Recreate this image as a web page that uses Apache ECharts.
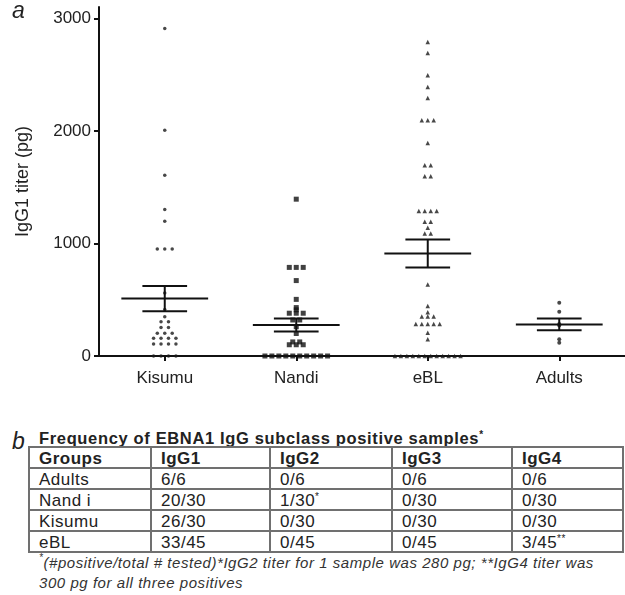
<!DOCTYPE html>
<html>
<head>
<meta charset="utf-8">
<script src="https://cdn.jsdelivr.net/npm/echarts@6/dist/echarts.min.js"></script>
<style>
    body { margin: 0; background: #fff; font-family: "Liberation Sans", Arial, sans-serif; color: #222; }
    #main { position: absolute; left: 0; top: 0; width: 625px; height: 400px; }
    #lblB { position: absolute; left: 12px; top: 430px; font-size: 23px; line-height: 23px; font-style: italic; }
    #tblTitle { position: absolute; left: 39px; top: 430px; font-size: 16.5px; line-height: 16px; font-weight: bold; letter-spacing: 0.65px; white-space: nowrap; }
    #tblTitle sup, #tbl sup, #note sup { font-size: 10px; vertical-align: top; line-height: 10px; }
    #tbl { position: absolute; left: 28px; top: 446px; border-collapse: collapse; table-layout: fixed; }
    #tbl td { border: 2px solid #707070; height: 17px; padding: 2px 0 0 9px; font-size: 17px; line-height: 17px; letter-spacing: 0.5px; white-space: nowrap; overflow: hidden; }
    #tbl tr:first-child td { font-weight: bold; }
    #note { position: absolute; left: 39px; top: 553px; font-size: 15px; line-height: 20px; font-style: italic; color: #333; letter-spacing: 0.55px; white-space: nowrap; }
</style>
</head>
<body>
<div id="main"></div>
<div id="lblB">b</div>
<div id="tblTitle">Frequency of EBNA1 IgG subclass positive samples<sup>*</sup></div>
<table id="tbl"></table>
<div id="note"><sup>*</sup>(#positive/total # tested)*IgG2 titer for 1 sample was 280 pg; **IgG4 titer was<br>300 pg for all three positives</div>
<script>
    // panel a data (pg)
    var groups = ['Kisumu', 'Nandi', 'eBL', 'Adults'];
    var kisumu = [2910, 2005, 1606, 1302, 1198, 950, 950, 950, 560, 414, 348, 305, 305, 254, 254,
        201, 201, 201, 157, 157, 157, 157, 106, 106, 106, 106, 0, 0, 0, 0];
    var nandi = [1393, 787, 787, 787, 670, 503, 430, 410, 380, 380, 380, 320, 320, 260, 200,
        125, 125, 100, 100, 100, 0, 0, 0, 0, 0, 0, 0, 0, 0, 0];
    var ebl = [2789, 2691, 2493, 2390, 2292, 2094, 2094, 2094, 1893, 1695, 1695, 1597, 1597,
        1287, 1287, 1287, 1287, 1192, 1192, 1139, 1088, 1088, 636, 444, 388, 350, 350, 350,
        284, 284, 284, 284, 284, 207, 148, 0, 0, 0, 0, 0, 0, 0, 0, 0, 0, 0, 0];
    var adults = [473, 393, 285, 270, 148, 118];
    var means = [510, 275, 910, 280];
    var sems = [112, 58, 125, 52];
    var yTicks = [0, 1000, 2000, 3000];

    // panel b table
    var tableHeader = ['Groups', 'IgG1', 'IgG2', 'IgG3', 'IgG4'];
    var tableRows = [
        ['Adults', '6/6', '0/6', '0/6', '0/6'],
        ['Nand i', '20/30', '1/30*', '0/30', '0/30'],
        ['Kisumu', '26/30', '0/30', '0/30', '0/30'],
        ['eBL', '33/45', '0/45', '0/45', '3/45**']
    ];
    var colWidths = [122, 119, 122, 120, 111];

    var tbl = document.getElementById('tbl');
    [tableHeader].concat(tableRows).forEach(function (row) {
        var tr = document.createElement('tr');
        row.forEach(function (cell, i) {
            var td = document.createElement('td');
            td.style.width = (colWidths[i] - 11) + 'px';
            var m = cell.match(/^(.*?)(\*+)$/);
            if (m) {
                td.textContent = m[1];
                var sup = document.createElement('sup');
                sup.textContent = m[2];
                td.appendChild(sup);
            } else {
                td.textContent = cell;
            }
            tr.appendChild(td);
        });
        tbl.appendChild(tr);
    });

    var gridLeft = 99, gridRight = -3, gridTop = 7, gridBottom = 44;
    var bandPx = (625 - gridLeft - gridRight) / groups.length;

    // simple column scatter: equal values are spread side by side
    function swarm(vals, gi, step) {
        var counts = {}, seen = {}, out = [];
        vals.forEach(function (v) { counts[v] = (counts[v] || 0) + 1; });
        vals.forEach(function (v) {
            var k = seen[v] || 0;
            seen[v] = k + 1;
            out.push([gi + (k - (counts[v] - 1) / 2) * step / bandPx, v]);
        });
        return out;
    }

    var font = 'Liberation Sans';
    var chart = echarts.init(document.getElementById('main'));
    var option = {
        animation: false,
        grid: {left: gridLeft, right: gridRight, top: gridTop, bottom: gridBottom},
        graphic: [{
            type: 'text', left: 12, top: 0,
            style: {text: 'a', font: 'italic 23px "Liberation Sans"', fill: '#222'}
        }],
        xAxis: {
            type: 'value', min: -0.5, max: 3.5,
            splitLine: {show: false},
            axisLine: {show: true, onZero: false, lineStyle: {color: '#111', width: 2}},
            axisTick: {show: true, customValues: [0, 1, 2, 3], length: 5, lineStyle: {color: '#111', width: 2}},
            axisLabel: {
                customValues: [0, 1, 2, 3], margin: 14, fontSize: 17, color: '#222', fontFamily: font,
                formatter: function (v) { return groups[Math.round(v)]; }
            }
        },
        yAxis: {
            type: 'value', min: 0, max: 3100,
            name: 'IgG1 titer (pg)', nameLocation: 'middle', nameGap: 67,
            nameTextStyle: {fontSize: 18, fontWeight: 'normal', color: '#222', fontFamily: font},
            splitLine: {show: false},
            axisLine: {show: true, onZero: false, lineStyle: {color: '#111', width: 2}},
            axisTick: {show: true, customValues: yTicks, length: 5, lineStyle: {color: '#111', width: 2}},
            axisLabel: {
                customValues: yTicks, margin: 8, fontSize: 17, color: '#222', fontFamily: font,
                formatter: function (v) { return String(v); }
            }
        },
        series: [
            {type: 'scatter', data: swarm(kisumu, 0, 7.5), symbol: 'circle', symbolSize: 3.5, itemStyle: {color: '#1a1a1a'}},
            {type: 'scatter', data: swarm(nandi, 1, 7), symbol: 'rect', symbolSize: 5, itemStyle: {color: '#111'}},
            {type: 'scatter', data: swarm(ebl, 2, 6), symbol: 'triangle', symbolSize: 4.5, itemStyle: {color: '#1a1a1a'}},
            {type: 'scatter', data: swarm(adults, 3, 7), symbol: 'circle', symbolSize: 4, itemStyle: {color: '#1a1a1a'}},
            {
                type: 'custom', z: 5,
                data: means.map(function (m, i) { return [i, m, sems[i]]; }),
                renderItem: function (params, api) {
                    var gi = api.value(0), m = api.value(1), s = api.value(2);
                    var c = api.coord([gi, m]);
                    var hi = api.coord([gi, m + s]);
                    var lo = api.coord([gi, m - s]);
                    var bw = api.size([1, 0])[0];
                    var st = {stroke: '#111', lineWidth: 2};
                    function seg(x1, y1, x2, y2) {
                        return {type: 'line', shape: {x1: x1, y1: y1, x2: x2, y2: y2}, style: st};
                    }
                    return {
                        type: 'group',
                        children: [
                            seg(c[0] - 0.33 * bw, c[1], c[0] + 0.33 * bw, c[1]),
                            seg(c[0] - 0.17 * bw, hi[1], c[0] + 0.17 * bw, hi[1]),
                            seg(c[0] - 0.17 * bw, lo[1], c[0] + 0.17 * bw, lo[1]),
                            seg(c[0], hi[1], c[0], lo[1])
                        ]
                    };
                }
            }
        ]
    };
    chart.setOption(option);
</script>
</body>
</html>
